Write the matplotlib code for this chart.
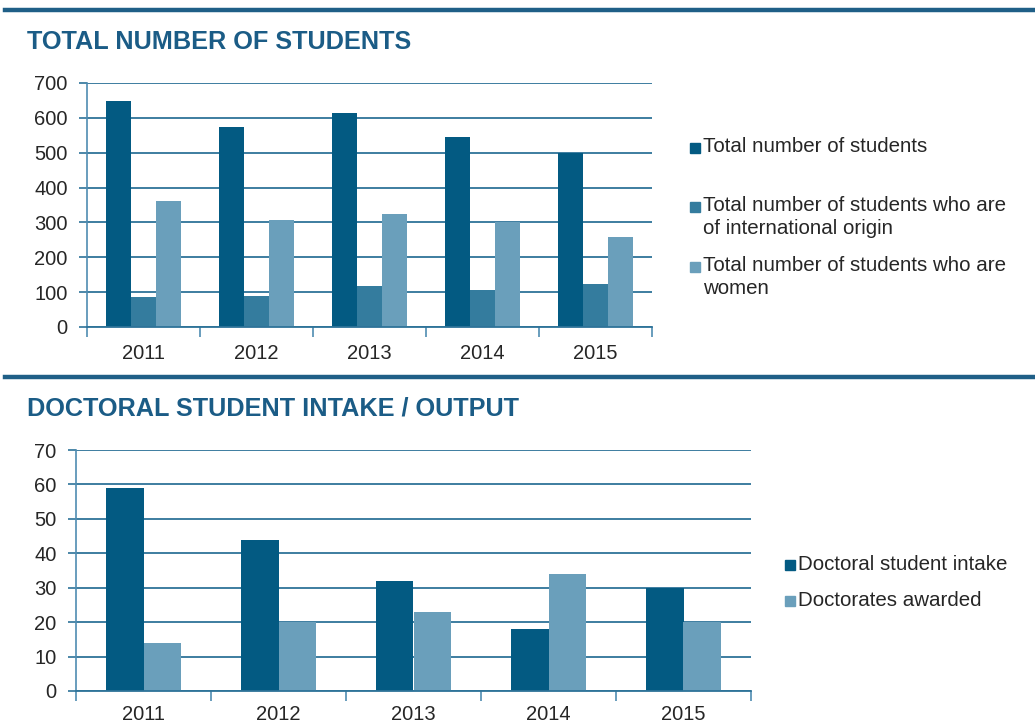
import matplotlib
matplotlib.use("Agg")
import matplotlib.pyplot as plt
from matplotlib.patches import Rectangle
from matplotlib.lines import Line2D
import numpy as np

plt.rcParams['font.family'] = ['Liberation Sans', 'DejaVu Sans']

# ---- data ----
years = ["2011", "2012", "2013", "2014", "2015"]
total_students = [648, 574, 615, 545, 500]
international_students = [86, 88, 119, 107, 123]
women_students = [361, 307, 324, 301, 258]
top_labels = ["Total number of students",
              "Total number of students who are\nof international origin",
              "Total number of students who are\nwomen"]

doctoral_intake = [59, 44, 32, 18, 30]
doctorates_awarded = [14, 20, 23, 34, 20]
bottom_labels = ["Doctoral student intake", "Doctorates awarded"]

title_top = "TOTAL NUMBER OF STUDENTS"
title_bottom = "DOCTORAL STUDENT INTAKE / OUTPUT"

# ---- styles ----
C_DARK = "#035a82"
C_MID = "#347c9e"
C_LIGHT = "#6a9fbb"
C_GRID = "#2e7399"
C_SPINE = "#4f8cb1"
C_TITLE = "#1b5c86"
C_SEP = "#1f5f87"
C_TEXT = "#262626"

W, H = 1035, 725
fig = plt.figure(figsize=(W / 100, H / 100), dpi=100)


def fx(px):
    return px / W


def fy(py):
    return 1 - py / H


def style_axis(ax, ymax, ystep, xpad):
    n = len(years)
    ax.set_xlim(-0.5, n - 0.5)
    ax.set_ylim(0, ymax)
    ax.set_yticks(np.arange(0, ymax + 1, ystep))
    ax.set_xticks(np.arange(n))
    ax.set_xticklabels(years)
    ax.set_xticks(np.arange(n + 1) - 0.5, minor=True)
    ax.tick_params(axis='x', which='major', length=0, pad=xpad, labelsize=14.5, labelcolor=C_TEXT)
    ax.tick_params(axis='x', which='minor', length=7, width=1.2, color=C_SPINE, direction='out')
    ax.tick_params(axis='y', which='major', length=6, width=1.2, color=C_GRID, pad=8,
                   labelsize=14.5, labelcolor=C_TEXT)
    ax.yaxis.grid(True, color=C_GRID, linewidth=1.3)
    ax.set_axisbelow(True)
    for s in ("top", "right"):
        ax.spines[s].set_visible(False)
    ax.spines["left"].set_color(C_SPINE)
    ax.spines["left"].set_linewidth(1.2)
    ax.spines["bottom"].set_color(C_GRID)
    ax.spines["bottom"].set_linewidth(1.3)


# separators
for yy in (10, 377):
    fig.add_artist(Line2D([fx(5), 1.0], [fy(yy), fy(yy)], color=C_SEP, linewidth=3.2))

# titles
fig.text(fx(27), fy(42), title_top, fontsize=18.2, fontweight='bold', color=C_TITLE,
         va='center', ha='left')
fig.text(fx(27), fy(408), title_bottom, fontsize=18.2, fontweight='bold', color=C_TITLE,
         va='center', ha='left')

# ---- top chart ----
ax1 = fig.add_axes([fx(87), fy(327), fx(652 - 87), (327 - 83) / H])
x = np.arange(len(years))
bw = 0.222
series_top = [total_students, international_students, women_students]
colors_top = [C_DARK, C_MID, C_LIGHT]
for i, (vals, col) in enumerate(zip(series_top, colors_top)):
    ax1.bar(x + (i - 1) * bw, vals, width=bw, color=col, linewidth=0)
style_axis(ax1, 700, 100, 12)

# top legend
leg_top_y = [148, 207, 267]
for lab, col, yy in zip(top_labels, colors_top, leg_top_y):
    fig.add_artist(Rectangle((fx(690), fy(yy) - 5 / H), 10 / W, 10 / H, color=col,
                             transform=fig.transFigure))
    fig.text(fx(703), fy(yy) + 11 / H, lab, fontsize=14.8, color=C_TEXT, va='top',
             ha='left', linespacing=1.28)

# ---- bottom chart ----
ax2 = fig.add_axes([fx(76), fy(691), fx(751 - 76), (691 - 450) / H])
bw2 = 0.28
series_bot = [doctoral_intake, doctorates_awarded]
colors_bot = [C_DARK, C_LIGHT]
for i, (vals, col) in enumerate(zip(series_bot, colors_bot)):
    ax2.bar(x + (i - 0.5) * bw2, vals, width=bw2, color=col, linewidth=0)
style_axis(ax2, 70, 10, 10)

leg_bot_y = [565, 601]
for lab, col, yy in zip(bottom_labels, colors_bot, leg_bot_y):
    fig.add_artist(Rectangle((fx(785), fy(yy) - 5 / H), 10 / W, 10 / H, color=col,
                             transform=fig.transFigure))
    fig.text(fx(798), fy(yy) + 1 / H, lab, fontsize=14.8, color=C_TEXT, va='center', ha='left')

fig.savefig("out.png", dpi=100)
